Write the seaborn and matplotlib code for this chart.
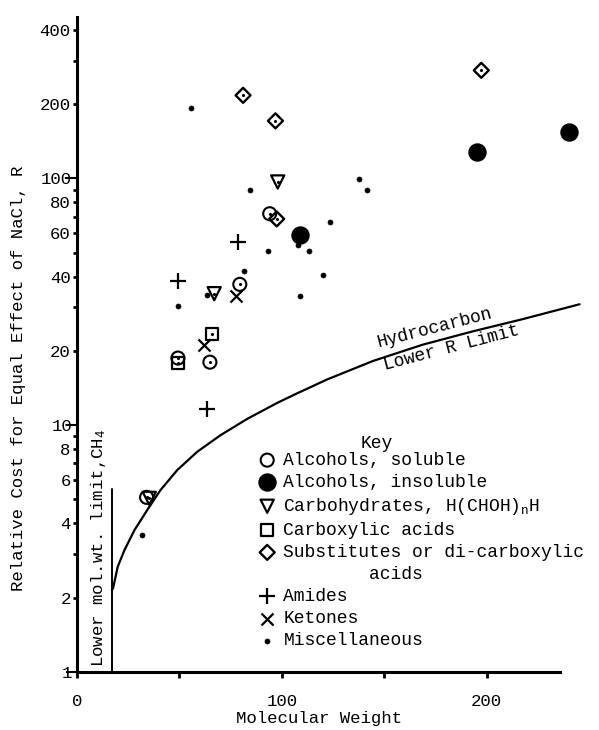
import numpy as np
import pandas as pd
import matplotlib
matplotlib.use("Agg")
import matplotlib.pyplot as plt
from matplotlib.lines import Line2D
import seaborn as sns

# Values (molecular weight vs. relative cost R)
alc_sol_mw = [34, 49.3, 64.9, 79.5, 94.1]
alc_sol_r = [5.1, 18.7, 18.0, 37.2, 71.9]

alc_insol_mw = [108.8, 195.3, 240.2]
alc_insol_r = [58.8, 128, 154]

carb_mw = [35.3, 67.0, 98.0]
carb_r = [5.05, 34.1, 96.7]

acid_mw = [49.1, 65.7]
acid_r = [17.8, 23.5]

subst_mw = [81.1, 96.9, 97.5, 197.4]
subst_r = [217, 171, 68.5, 274]

amide_mw = [49.4, 63.6, 78.7]
amide_r = [38.4, 11.6, 55.2]

ketone_mw = [62.0, 77.6]
ketone_r = [21.1, 33.3]

misc_mw = [31.9, 49.1, 55.5, 63.6, 81.6, 84.7, 93.3, 108.0, 108.8, 113.3,
           120.2, 123.7, 137.6, 141.8]
misc_r = [3.59, 30.3, 193, 33.6, 42.2, 89.4, 50.8, 53.5, 33.5, 50.8,
          40.5, 66.4, 99, 90]

# hydrocarbon lower R limit curve
hc_mw = [17, 17.6, 19.9, 23.2, 28.1, 34.3, 40.8, 48.9, 58.7, 70.1, 83.1,
         97.7, 107.0, 122.0, 144.5, 168.9, 193.3, 217.7, 245.4]
hc_r = [2.15, 2.18, 2.67, 3.12, 3.76, 4.53, 5.46, 6.57, 7.8, 9.11, 10.6,
        12.3, 13.4, 15.3, 18.2, 21.2, 24.0, 26.9, 30.9]

ch4_mw = [17, 17]
ch4_r = [1, 5.5]

y_labels = [1, 2, 4, 6, 8, 10, 20, 40, 60, 80, 100, 200, 400]
x_labels = [0, 100, 200]

sns.set_theme(style="white")
plt.rcParams["font.family"] = ["Liberation Mono", "DejaVu Sans Mono"]
plt.rcParams["mathtext.fontset"] = "custom"
plt.rcParams["mathtext.rm"] = "Liberation Mono"
plt.rcParams["mathtext.it"] = "Liberation Mono"

fig = plt.figure(figsize=(5.99, 7.30), dpi=100)
ax = fig.add_axes([0.1285, 0.0795, 0.848, 0.897])

groups = [
    ("Alcohols, soluble", alc_sol_mw, alc_sol_r, "o", "none", 88, 1.5),
    ("Alcohols, insoluble", alc_insol_mw, alc_insol_r, "o", "black", 150, 1.0),
    ("Carbohydrates, H(CHOH)$_n$H", carb_mw, carb_r, "v", "none", 90, 1.6),
    ("Carboxylic acids", acid_mw, acid_r, "s", "none", 75, 1.6),
    ("Substitutes or di-carboxylic", subst_mw, subst_r, "D", "none", 58, 1.7),
    ("Amides", amide_mw, amide_r, "+", "black", 117, 1.6),
    ("Ketones", ketone_mw, ketone_r, "x", "black", 75, 1.6),
    ("Miscellaneous", misc_mw, misc_r, "o", "black", 13, 0.5),
]

for label, xs, ys, mk, fc, size, lw in groups:
    df = pd.DataFrame({"mw": xs, "r": ys})
    sns.scatterplot(data=df, x="mw", y="r", ax=ax, marker=mk, s=size,
                    facecolor=fc, edgecolor="black", color="black",
                    linewidth=lw, label=label, clip_on=False, zorder=3)
    if fc == "none":
        # small centre dot of the hand-plotted symbols
        ax.scatter(xs, ys, s=1.5, color="black", zorder=4, clip_on=False)

curve = pd.DataFrame({"mw": hc_mw, "r": hc_r})
sns.lineplot(data=curve, x="mw", y="r", ax=ax, color="black", lw=1.6,
             sort=False, estimator=None, clip_on=False)
ax.plot(ch4_mw, ch4_r, color="black", lw=1.4)

ax.set_yscale("log")
ax.set_xlim(0, 248)
ax.set_ylim(1, 450)

for side in ["top", "right"]:
    ax.spines[side].set_visible(False)
for side in ["left", "bottom"]:
    ax.spines[side].set_linewidth(2.2)
    ax.spines[side].set_color("black")
ax.spines["bottom"].set_bounds(0, 236)

# y ticks: long ones at decades, short dots elsewhere
ax.yaxis.set_major_locator(matplotlib.ticker.FixedLocator([1, 10, 100]))
ax.yaxis.set_major_formatter(matplotlib.ticker.FuncFormatter(lambda v, p: f"{v:g}"))
short = [v for v in y_labels if v not in (1, 10, 100)]
ax.yaxis.set_minor_locator(matplotlib.ticker.FixedLocator(short + [3, 5, 7, 9, 30, 50, 70, 90, 300]))
ax.yaxis.set_minor_formatter(matplotlib.ticker.FuncFormatter(
    lambda v, p: f"{v:g}" if v in short else ""))
ax.tick_params(axis="y", which="major", direction="out", length=8, width=1.5,
               pad=-4.5, labelsize=12.5, colors="black", left=True)
ax.tick_params(axis="y", which="minor", direction="out", length=3, width=2,
               pad=1.5, labelsize=12.5, colors="black", left=True)

ax.set_xticks([0, 50, 100, 150, 200])
ax.set_xticklabels([str(v) if v in x_labels else "" for v in [0, 50, 100, 150, 200]])
ax.tick_params(axis="x", which="major", direction="out", length=4, width=2,
               pad=12, labelsize=12.5, colors="black", bottom=True)

ax.set_xlabel("Molecular Weight", fontsize=12.5, color="black")
ax.set_ylabel("Relative Cost for Equal Effect of NaCl, R", fontsize=12.5,
              color="black")
ax.yaxis.set_label_coords(-0.100, 0.449)
ax.xaxis.set_label_coords(0.476, -0.059)

ax.text(10.7, 1.05, "Lower mol.wt. limit,CH$_4$", rotation=90, ha="center",
        va="bottom", fontsize=12.5, color="black")
ax.text(174.6, 24.8, "Hydrocarbon", rotation=14.5, ha="center", va="center",
        fontsize=13, color="black", rotation_mode="anchor")
ax.text(182.8, 20.5, "Lower R Limit", rotation=14.7, ha="center", va="center",
        fontsize=13, color="black", rotation_mode="anchor")

# legend ("Key"), with the wrapped second line of the substitutes entry
handles, labels = ax.get_legend_handles_labels()
handles.insert(5, Line2D([], [], linestyle="none", marker=None))
labels.insert(5, "        acids")
fig.text(0.629, 0.393, "Key", ha="center", va="center", fontsize=13, color="black")
ax.legend(handles, labels, loc="upper left", bbox_to_anchor=(0.431, 0.381),
          bbox_transform=fig.transFigure, frameon=False, fontsize=13,
          handlelength=1.0, handletextpad=0.4, borderpad=0, borderaxespad=0,
          labelspacing=0.28, scatterpoints=1, labelcolor="black")

fig.savefig("out.png", dpi=100)
